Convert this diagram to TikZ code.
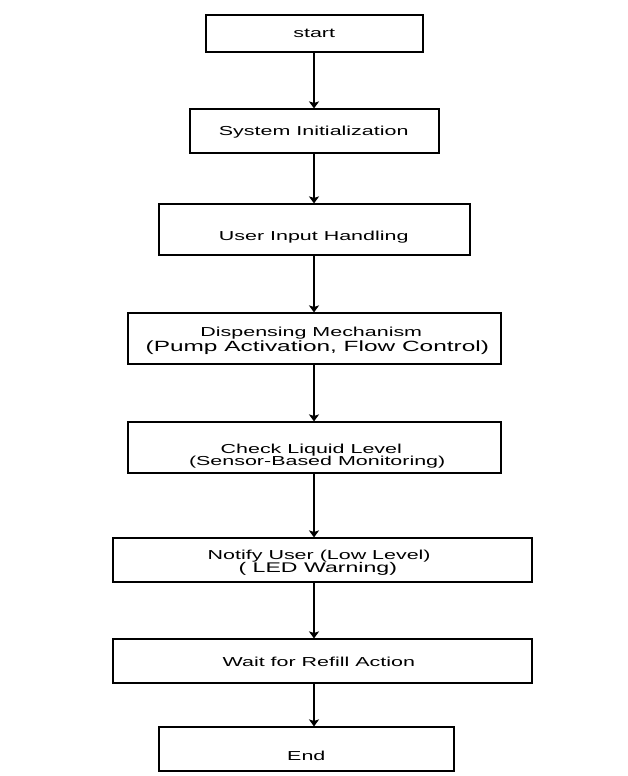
\documentclass[tikz,border=0pt]{standalone}
\usepackage{fontspec}
\setmainfont{Liberation Sans}[FakeStretch=1.65]
\usetikzlibrary{arrows.meta}
\begin{document}
\begin{tikzpicture}[x=1pt,y=-1pt,
  box/.style={draw=black, line width=1.1pt, inner sep=0pt},
  lbl/.style={anchor=base, inner sep=0pt, font=\fontsize{13}{13}\selectfont},
  flow/.style={draw=black, line width=1.3pt, -{Stealth[length=7pt,width=10pt,inset=1.5pt]}}]
\useasboundingbox (0,0) rectangle (627,776);
\fill[white] (0,0) rectangle (627,776);
\coordinate (ax) at (314,0);
% boxes
\node[box, minimum width=217pt, minimum height=37pt] (b1) at (314.5,33.5) {};
\node[box, minimum width=249pt, minimum height=44pt] (b2) at (314.5,131) {};
\node[box, minimum width=311pt, minimum height=51pt] (b3) at (314.5,229.5) {};
\node[box, minimum width=373pt, minimum height=51pt] (b4) at (314.5,338.5) {};
\node[box, minimum width=373pt, minimum height=51pt] (b5) at (314.5,447.5) {};
\node[box, minimum width=419pt, minimum height=44pt] (b6) at (322.5,560) {};
\node[box, minimum width=419pt, minimum height=44pt] (b7) at (322.5,661) {};
\node[box, minimum width=295pt, minimum height=44pt] (b8) at (306.5,749) {};
% labels
\node[lbl] (t1) at (314.2,37.7) {start};
\node[lbl] (t2) at (313.7,135.7) {System Initialization};
\node[lbl] (t3) at (313.7,240) {User Input Handling};
\node[lbl] (t4a) at (311.3,336) {Dispensing Mechanism};
\node[lbl, font=\fontsize{14.8}{14.8}\selectfont] (t4b) at (317.3,351) {(Pump Activation, Flow Control)};
\node[lbl] (t5a) at (311.3,453.7) {Check Liquid Level};
\node[lbl] (t5b) at (317.2,465.7) {(Sensor-Based Monitoring)};
\node[lbl] (t6a) at (319.2,559.3) {Notify User (Low Level)};
\node[lbl, font=\fontsize{14}{14}\selectfont] (t6b) at (317.8,572.7) {( LED Warning)};
\node[lbl] (t7) at (318.8,666.7) {Wait for Refill Action};
\node[lbl] (t8) at (306.3,760) {End};
% connectors
\draw[flow] (b1.south -| ax) -- (b2.north -| ax);
\draw[flow] (b2.south -| ax) -- (b3.north -| ax);
\draw[flow] (b3.south -| ax) -- (b4.north -| ax);
\draw[flow] (b4.south -| ax) -- (b5.north -| ax);
\draw[flow] (b5.south -| ax) -- (b6.north -| ax);
\draw[flow] (b6.south -| ax) -- (b7.north -| ax);
\draw[flow] (b7.south -| ax) -- (b8.north -| ax);
\end{tikzpicture}
\end{document}
